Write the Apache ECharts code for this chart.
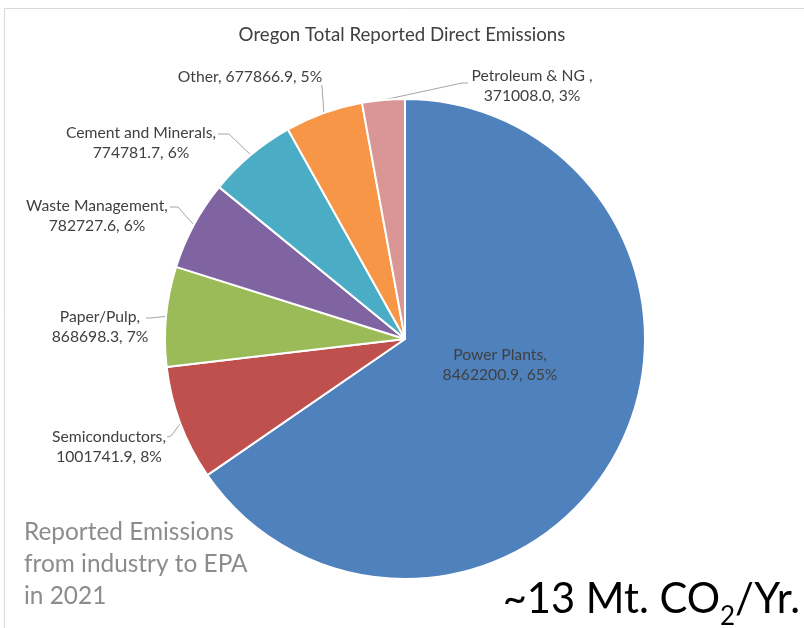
<!DOCTYPE html>
<html>
<head>
<meta charset="utf-8">
<script src="https://cdn.jsdelivr.net/npm/echarts@6/dist/echarts.min.js"></script>
<style>
html,body{margin:0;padding:0;background:#fff;}
#chart{width:804px;height:628px;}
</style>
</head>
<body>
<div id="chart"></div>
<script>
// ---- data ----
const categories = ['Power Plants', 'Semiconductors', 'Paper/Pulp', 'Waste Management', 'Cement and Minerals', 'Other', 'Petroleum & NG '];
const emissions = [8462200.9, 1001741.9, 868698.3, 782727.6, 774781.7, 677866.9, 371008.0];
const sliceColors = ['#4F81BD', '#C0504D', '#9BBB59', '#8064A2', '#4BACC6', '#F79646', '#D99694'];
const titleText = 'Oregon Total Reported Direct Emissions';
const noteLines = ['Reported Emissions', 'from industry to EPA', 'in 2021'];

// ---- label layout (text placement, Excel-like) ----
const labelPlacement = [
  { x: 500, y: 365, wrap: true },
  { x: 109, y: 447, wrap: true, line: [[171, 436], [167, 437]] },
  { x: 100, y: 327, wrap: true, line: [[150, 318], [146, 318]] },
  { x: 97,  y: 216, wrap: true, line: [[178, 207], [170, 207]] },
  { x: 141, y: 143, wrap: true, line: [[229, 134], [218, 134]] },
  { x: 250, y: 77,  wrap: false, line: [[322, 86], [321, 85]] },
  { x: 532, y: 86,  wrap: true, line: [[462, 83], [468, 83]] }
];

const FONT = 'Lato, "Open Sans", sans-serif';
const pieData = categories.map((name, i) => {
  const item = { name: name, value: emissions[i], itemStyle: { color: sliceColors[i] } };
  if (i === 0) {
    item.label = { position: 'inside' };
    item.labelLine = { show: false };
  }
  return item;
});

const chart = echarts.init(document.getElementById('chart'), null, { renderer: 'canvas' });
chart.setOption({
  animation: false,
  backgroundColor: '#ffffff',
  title: {
    text: titleText,
    left: 'center',
    top: 25,
    padding: 0,
    textStyle: { fontFamily: FONT, fontSize: 18.7, fontWeight: 'normal', color: '#404040' }
  },
  graphic: [
    {
      type: 'rect', silent: true, z: -1,
      shape: { x: 4.5, y: 8.5, width: 900, height: 900 },
      style: { fill: 'none', stroke: '#d9d9d9', lineWidth: 1 }
    },
    {
      type: 'text', left: 24, top: 516, silent: true,
      style: {
        text: noteLines.join('\n'),
        fontFamily: FONT, fontSize: 24.4, lineHeight: 32, fill: '#8c8c8c'
      }
    },
    {
      type: 'text', right: 4, top: 579, silent: true,
      style: {
        text: '{m|~13 Mt. CO}{s|2}{m|/Yr.}',
        rich: {
          m: { fontFamily: FONT, fontSize: 41.7, lineHeight: 60, fill: '#000' },
          s: { fontFamily: FONT, fontSize: 26, lineHeight: 26, verticalAlign: 'bottom', fill: '#000' }
        }
      }
    }
  ],
  series: [{
    type: 'pie',
    center: [405, 339],
    radius: [0, 240],
    startAngle: 90,
    clockwise: true,
    data: pieData,
    itemStyle: { borderColor: '#ffffff', borderWidth: 2 },
    label: {
      show: true,
      position: 'outside',
      fontFamily: FONT,
      fontSize: 15.7,
      lineHeight: 20,
      color: '#404040',
      align: 'center',
      formatter: p => p.name + ',' + (labelPlacement[p.dataIndex].wrap ? '\n' : ' ') +
        p.value.toFixed(1) + ', ' + Math.round(p.percent) + '%'
    },
    labelLine: {
      show: true,
      length: 10,
      length2: 10,
      lineStyle: { color: '#a6a6a6', width: 1 }
    },
    labelLayout: function (p) {
      const L = labelPlacement[p.dataIndex];
      const res = { x: L.x, y: L.y, align: 'center', verticalAlign: 'middle' };
      if (L.line && p.labelLinePoints) {
        res.labelLinePoints = [p.labelLinePoints[0], L.line[0], L.line[1]];
      }
      return res;
    },
    emphasis: { disabled: true }
  }]
});
</script>
</body>
</html>
